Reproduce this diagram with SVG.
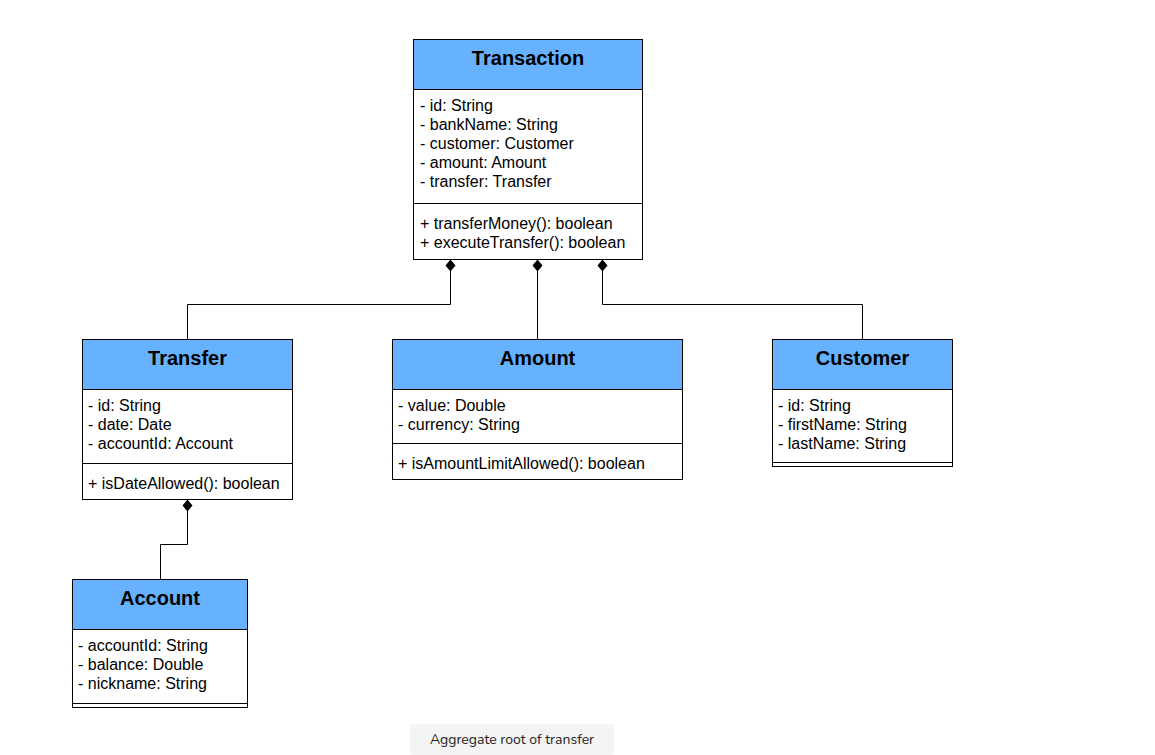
<svg xmlns="http://www.w3.org/2000/svg" width="1155" height="755" viewBox="0 0 1155 755">
<style>
.hdr{fill:#66B2FF;stroke:#000;stroke-width:1}
.box{fill:#fff;stroke:#000;stroke-width:1}
.sep{stroke:#000;stroke-width:1;fill:none}
.title{font-family:"Liberation Sans",Arial,sans-serif;font-size:20px;font-weight:bold;fill:#000;text-anchor:middle}
.t{font-family:"Liberation Sans",Arial,sans-serif;font-size:16px;fill:#000}
.conn{stroke:#000;stroke-width:1;fill:none}
.cap{font-family:"Nunito","Open Sans",Lato,sans-serif;font-size:14px;fill:#222;text-anchor:middle}
</style>
<defs>
<marker id="diamond" markerWidth="14" markerHeight="12" refX="0" refY="5" orient="auto" markerUnits="userSpaceOnUse" viewBox="0 0 14 10">
<path d="M0,5 L6,0 L12,5 L6,10 Z" fill="#000"/>
</marker>
</defs>
<rect width="1155" height="755" fill="#fff"/>

<g id="connectors">
<path class="conn" d="M450.5,259.5 L450.5,304.5 L187.5,304.5 L187.5,339.5" marker-start="url(#diamond)"/>
<path class="conn" d="M537.5,259.5 L537.5,339.5" marker-start="url(#diamond)"/>
<path class="conn" d="M602.5,259.5 L602.5,304.5 L862.5,304.5 L862.5,339.5" marker-start="url(#diamond)"/>
<path class="conn" d="M187.5,499.5 L187.5,544.5 L160.5,544.5 L160.5,579.5" marker-start="url(#diamond)"/>
</g>

<g id="Transaction">
<rect class="box" x="413.5" y="39.5" width="229" height="220"/>
<rect class="hdr" x="413.5" y="39.5" width="229" height="50"/>
<line class="sep" x1="413.5" y1="203.5" x2="642.5" y2="203.5"/>
<text class="title" x="528" y="65">Transaction</text>
<text class="t" x="420" y="111">- id: String</text>
<text class="t" x="420" y="130">- bankName: String</text>
<text class="t" x="420" y="149">- customer: Customer</text>
<text class="t" x="420" y="168">- amount: Amount</text>
<text class="t" x="420" y="187">- transfer: Transfer</text>
<text class="t" x="420" y="229">+ transferMoney(): boolean</text>
<text class="t" x="420" y="248">+ executeTransfer(): boolean</text>
</g>

<g id="Transfer">
<rect class="box" x="82.5" y="339.5" width="210" height="160"/>
<rect class="hdr" x="82.5" y="339.5" width="210" height="50"/>
<line class="sep" x1="82.5" y1="463.5" x2="292.5" y2="463.5"/>
<text class="title" x="187.5" y="365">Transfer</text>
<text class="t" x="88" y="411">- id: String</text>
<text class="t" x="88" y="430">- date: Date</text>
<text class="t" x="88" y="449">- accountId: Account</text>
<text class="t" x="88" y="489">+ isDateAllowed(): boolean</text>
</g>

<g id="Amount">
<rect class="box" x="392.5" y="339.5" width="290" height="140"/>
<rect class="hdr" x="392.5" y="339.5" width="290" height="50"/>
<line class="sep" x1="392.5" y1="443.5" x2="682.5" y2="443.5"/>
<text class="title" x="537.5" y="365">Amount</text>
<text class="t" x="398" y="411">- value: Double</text>
<text class="t" x="398" y="430">- currency: String</text>
<text class="t" x="398" y="469">+ isAmountLimitAllowed(): boolean</text>
</g>

<g id="Customer">
<rect class="box" x="772.5" y="339.5" width="180" height="127"/>
<rect class="hdr" x="772.5" y="339.5" width="180" height="50"/>
<line class="sep" x1="772.5" y1="462.5" x2="952.5" y2="462.5"/>
<text class="title" x="862.5" y="365">Customer</text>
<text class="t" x="778" y="411">- id: String</text>
<text class="t" x="778" y="430">- firstName: String</text>
<text class="t" x="778" y="449">- lastName: String</text>
</g>

<g id="Account">
<rect class="box" x="72.5" y="579.5" width="175" height="128"/>
<rect class="hdr" x="72.5" y="579.5" width="175" height="50"/>
<line class="sep" x1="72.5" y1="703.5" x2="247.5" y2="703.5"/>
<text class="title" x="160" y="605">Account</text>
<text class="t" x="78" y="651">- accountId: String</text>
<text class="t" x="78" y="670">- balance: Double</text>
<text class="t" x="78" y="689">- nickname: String</text>
</g>

<g id="caption">
<rect x="410" y="724" width="204" height="31" rx="4" ry="4" fill="#f4f4f4"/>
<text class="cap" x="512" y="744">Aggregate root of transfer</text>
</g>
</svg>
